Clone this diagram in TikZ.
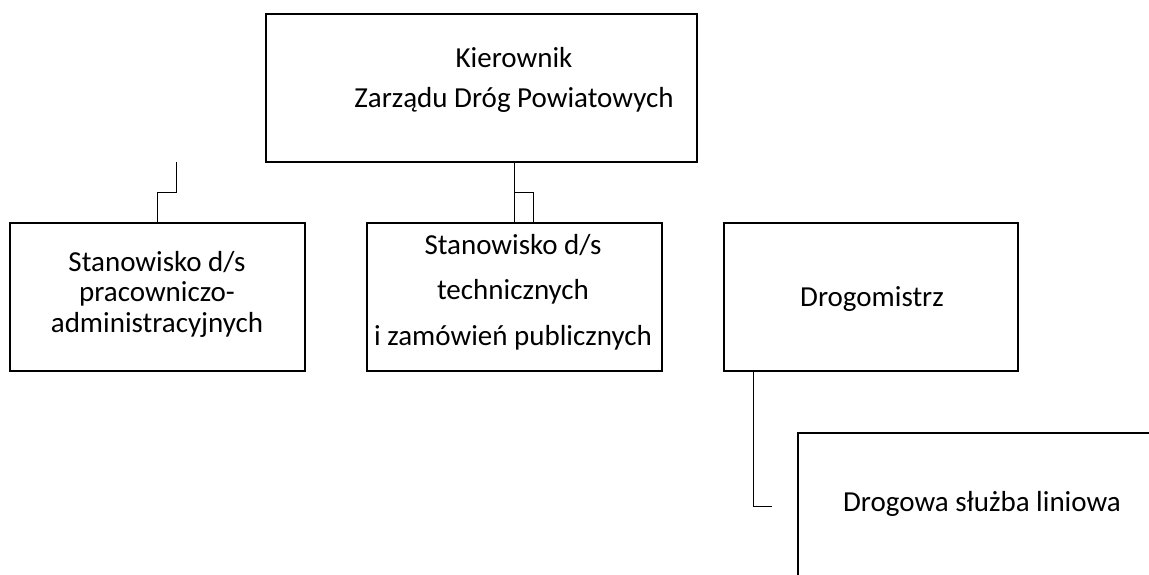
\documentclass[tikz,border=0pt]{standalone}
\usepackage{fontspec}
\setmainfont{Carlito}
\begin{document}
\begin{tikzpicture}[x=1pt,y=-1pt,
  box/.style={draw, line width=2.3pt, inner sep=0pt},
  conn/.style={draw, line width=1pt},
  txt/.style={anchor=base, inner sep=0pt, font=\fontsize{29}{35}\selectfont}]
\useasboundingbox (0,0) rectangle (1149,574);
\clip (0,0) rectangle (1149,574);
% boxes
\node[box, minimum width=431pt, minimum height=148pt] (top) at (481.5,88) {};
\node[box, minimum width=295pt, minimum height=148pt] (left) at (157.5,297) {};
\node[box, minimum width=295pt, minimum height=148pt] (mid) at (514.5,297) {};
\node[box, minimum width=294pt, minimum height=148pt] (dro) at (871,297) {};
\node[box, minimum width=400pt, minimum height=200pt] (line) at (998,533) {};
% texts
\node[txt] (t1) at (514,67) {Kierownik};
\node[txt] (t2) at (514,107) {Zarządu Dróg Powiatowych};
\node[txt] (l1) at (157,271) {Stanowisko d/s};
\node[txt] (l2) at (157,301) {pracowniczo-};
\node[txt] (l3) at (157,332) {administracyjnych};
\node[txt] (m1) at (513,254) {Stanowisko d/s};
\node[txt] (m2) at (513,299) {technicznych};
\node[txt] (m3) at (513,345) {i zamówień publicznych};
\node[txt] (d1) at (872,306) {Drogomistrz};
\node[txt] (s1) at (982,511) {Drogowa służba liniowa};
% connectors
\coordinate (lstub) at (176,162);
\coordinate (lbend) at (176,192);
\draw[conn] (lstub) -- (lbend) -| (left.north);
\coordinate (mtop) at (top.south -| mid.north);
\draw[conn] (mtop) -- (mid.north);
\coordinate (mbranch) at (514.5,192);
\coordinate (mfoot) at ([xshift=18.5pt]mid.north);
\draw[conn] (mbranch) -| (mfoot);
\coordinate (dfoot) at ([xshift=-118pt]dro.south);
\coordinate (dend) at (771.5,506);
\draw[conn] (dfoot) |- (dend);
\end{tikzpicture}
\end{document}
